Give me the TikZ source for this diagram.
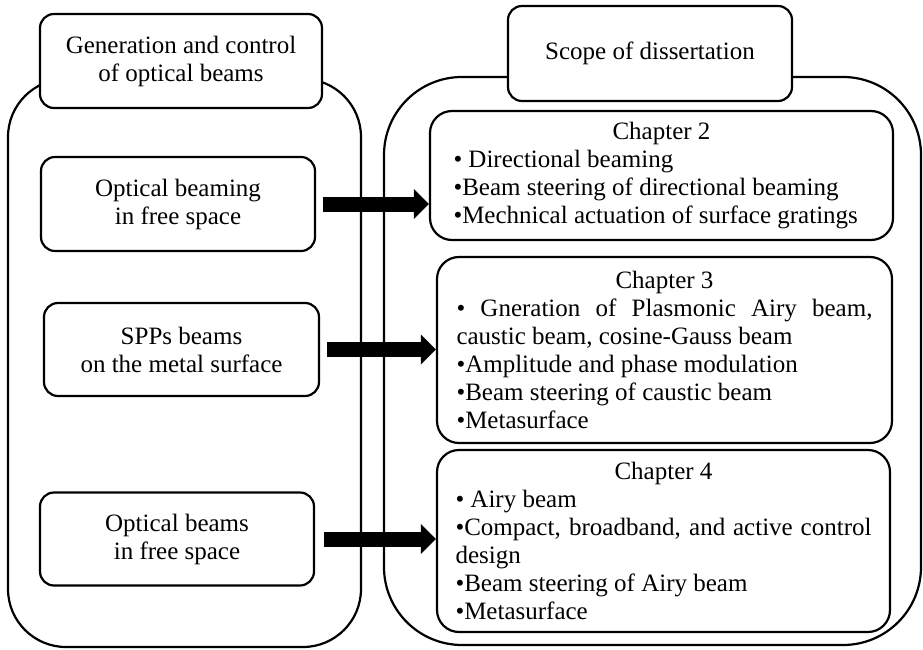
\documentclass[tikz,border=0pt]{standalone}
\usepackage{fontspec}
\setmainfont{Liberation Serif}
\usetikzlibrary{arrows.meta, positioning, calc}
\setlength{\parindent}{0pt}

\begin{document}
\begin{tikzpicture}[
  x=1pt, y=-1pt,
  font=\fontsize{25}{28}\selectfont,
  container/.style={draw, line width=2.2pt, rounded corners=#1},
  header/.style={draw, fill=white, line width=2.2pt, rounded corners=14pt,
                 align=center, inner sep=0pt},
  topic/.style={draw, fill=white, line width=2.2pt, rounded corners=14pt,
                align=center, inner sep=0pt},
  chapter/.style={draw, fill=white, line width=2.2pt, rounded corners=22pt,
                  text width=416pt, align=justify, inner sep=0pt},
  arr/.style={-{Triangle[length=15pt, width=29pt]}, line width=15pt},
]
\useasboundingbox (0,0) rectangle (923,650);

\draw[container=58pt] (8,79) rectangle (361,647);
\draw[container=78pt] (384,77) rectangle (921,645);

\node[header, minimum width=282pt, minimum height=94pt] (gen)   at (181,61)    {Generation and control\\of optical beams};
\node[header, minimum width=284pt, minimum height=95pt] (scope) at (650,53.5)  {Scope of dissertation};

\node[topic, minimum width=274pt, minimum height=94pt] (free)  at (178,204)   {Optical beaming\\in free space};
\node[topic, minimum width=275pt, minimum height=93pt] (spp)   at (181.5,349.5) {SPPs beams\\on the metal surface};
\node[topic, minimum width=274pt, minimum height=93pt] (airy)  at (177,539) {Optical beams\\in free space};

\node[chapter, minimum width=463pt, minimum height=129pt] (ch2) at (661.5,175.5) {{\centering Chapter 2\par}
  • Directional beaming\par
  •Beam steering of directional beaming\par
  •Mechnical actuation of surface gratings\par};
\node[chapter, minimum width=455pt, minimum height=186pt] (ch3) at (664.5,350) {{\centering Chapter 3\par}
  • Gneration of Plasmonic Airy beam,\linebreak caustic beam, cosine-Gauss beam\par
  •Amplitude and phase modulation\par
  •Beam steering of caustic beam\par
  •Metasurface\par};
\node[chapter, minimum width=453pt, minimum height=182pt] (ch4) at (663.5,541) {{\centering Chapter 4\par}
  • Airy beam\par
  •Compact, broadband, and active control\linebreak design\par
  •Beam steering of Airy beam\par
  •Metasurface\par};

\draw[arr] ([xshift=7pt]free.east) -- (free.east -| ch2.west);
\draw[arr] ([xshift=7pt]spp.east)  -- (spp.east -| ch3.west);
\draw[arr] ([xshift=9pt]airy.east) -- (airy.east -| ch4.west);
\end{tikzpicture}
\end{document}
